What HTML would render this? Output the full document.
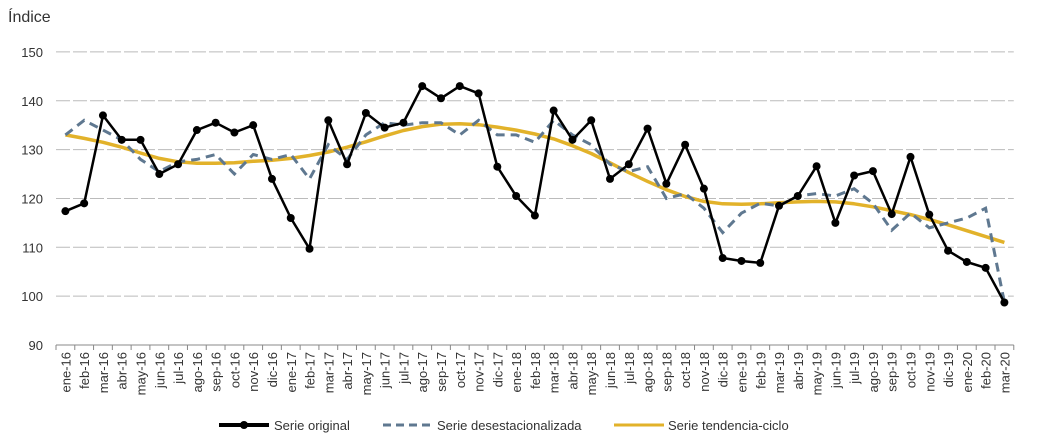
<!DOCTYPE html>
<html><head><meta charset="utf-8"><style>
body{margin:0;background:#fff;font-family:"Liberation Sans",Arial,sans-serif}
svg{display:block}
</style></head><body>
<svg id="chart" width="1052" height="444" xmlns="http://www.w3.org/2000/svg">
<text x="8" y="22" font-size="16" fill="#333">Índice</text>
<g id="grid"></g><g id="xaxis"></g><g id="series"></g>
<g>
 <g>
  <line x1="219" y1="425" x2="269" y2="425" stroke="#000" stroke-width="4"/><circle cx="244" cy="425" r="4" fill="#000"/>
  <text x="274" y="430" font-size="13" fill="#333">Serie original</text></g>
 <g>
  <line x1="383" y1="425" x2="433" y2="425" stroke="#5f7890" stroke-width="3" stroke-dasharray="8,5"/>
  <text x="437" y="430" font-size="13" fill="#333">Serie desestacionalizada</text></g>
 <g>
  <line x1="614" y1="425" x2="664" y2="425" stroke="#e2b22a" stroke-width="3"/>
  <text x="668" y="430" font-size="13" fill="#333">Serie tendencia-ciclo</text></g>
</g>
</svg>
<script>
const categories=["ene-16","feb-16","mar-16","abr-16","may-16","jun-16","jul-16","ago-16","sep-16","oct-16","nov-16","dic-16","ene-17","feb-17","mar-17","abr-17","may-17","jun-17","jul-17","ago-17","sep-17","oct-17","nov-17","dic-17","ene-18","feb-18","mar-18","abr-18","may-18","jun-18","jul-18","ago-18","sep-18","oct-18","nov-18","dic-18","ene-19","feb-19","mar-19","abr-19","may-19","jun-19","jul-19","ago-19","sep-19","oct-19","nov-19","dic-19","ene-20","feb-20","mar-20"];
const original=[117.4,119,137,132,132,125,127,134,135.5,133.5,135,124,116,109.7,136,127,137.5,134.5,135.5,143,140.5,143,141.5,126.5,120.5,116.5,138,132,136,124,127,134.3,123,131,122,107.8,107.2,106.8,118.5,120.5,126.6,115,124.7,125.6,116.8,128.5,116.7,109.3,107,105.8,98.7];
const desest=[133,136,134,132,128,125.5,127.5,128,129,125,129,128,129,124,131,128,133,135.5,135,135.5,135.5,133,136,133,133,131.5,136,133,131,127,125.5,126.5,120,121,118,113,117,119,118.5,120.5,121,120.5,122,119,113.5,117,114,115,116,118,98.7];
const tendencia=[133,132.3,131.5,130.5,129.3,128.2,127.5,127.2,127.2,127.3,127.6,127.8,128.2,128.8,129.5,130.5,131.6,132.8,133.9,134.7,135.2,135.3,135.1,134.6,134,133.2,132.2,130.8,129.2,127.3,125.3,123.5,121.8,120.4,119.4,118.9,118.8,118.9,119.1,119.3,119.4,119.3,118.9,118.3,117.5,116.7,115.7,114.6,113.4,112.2,111];
const yTicks=[90,100,110,120,130,140,150];
const NS="http://www.w3.org/2000/svg";
const x0=56,step=18.78;
function X(i){return x0+step/2+i*step}
function Y(v){return 345-(v-90)*4.885}
function mk(t,a,p){const e=document.createElementNS(NS,t);for(const k in a)e.setAttribute(k,a[k]);p.appendChild(e);return e}
const grid=document.getElementById('grid'),xa=document.getElementById('xaxis'),ser=document.getElementById('series');
const xEnd=x0+categories.length*step;
yTicks.forEach(v=>{
 if(v>90){const l=mk('line',{x1:56,x2:xEnd,y1:Y(v),y2:Y(v),stroke:'#bbb','stroke-width':1,'stroke-dasharray':'14,3'},grid);
 
 }
 const t=mk('text',{x:43,y:Y(v)+5,'font-size':13,fill:'#333','text-anchor':'end'},grid);t.textContent=v;
 
 
});
const ax=mk('line',{x1:56,x2:xEnd,y1:345,y2:345,stroke:'#888','stroke-width':1},xa);


for(let i=0;i<=categories.length;i++){mk('line',{x1:x0+i*step,x2:x0+i*step,y1:345,y2:350,stroke:'#888'},xa);}
categories.forEach((c,i)=>{
 const t=mk('text',{x:0,y:0,'font-size':13,fill:'#333','text-anchor':'end',transform:`translate(${X(i)+5},352) rotate(-90)`},xa);t.textContent=c;
 
 
});
function path(arr){return arr.map((v,i)=>(i?'L':'M')+X(i).toFixed(1)+','+Y(v).toFixed(1)).join(' ')}
const pt=mk('path',{d:path(tendencia),fill:'none',stroke:'#e2b22a','stroke-width':3.5,'stroke-linejoin':'round'},ser);


const pd=mk('path',{d:path(desest),fill:'none',stroke:'#5f7890','stroke-width':3,'stroke-dasharray':'9,6'},ser);


const po=mk('path',{d:path(original),fill:'none',stroke:'#000','stroke-width':2.5,'stroke-linejoin':'round'},ser);


original.forEach((v,i)=>{const c=mk('circle',{cx:X(i),cy:Y(v),r:4,fill:'#000'},ser);
 
 });
</script>
</body></html>
